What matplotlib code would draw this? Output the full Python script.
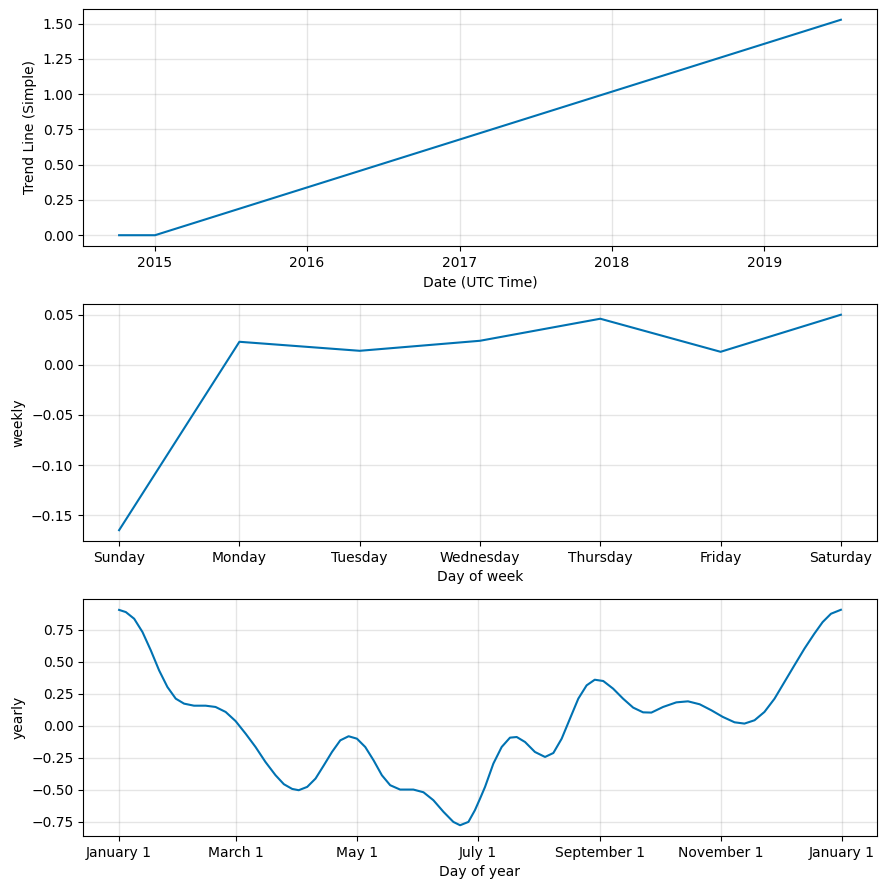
import datetime as dt

import matplotlib
matplotlib.use("Agg")
import matplotlib.pyplot as plt
import matplotlib.dates as mdates

LINE_COLOR = "#0072B2"

# trend component (piecewise linear)
trend_dates = [dt.datetime(2014, 10, 8), dt.datetime(2015, 1, 2), dt.datetime(2019, 7, 3)]
trend_values = [0.0, 0.0, 1.528]

# weekly component
weekdays = ["Sunday", "Monday", "Tuesday", "Wednesday", "Thursday", "Friday", "Saturday"]
weekly_values = [-0.165, 0.023, 0.014, 0.024, 0.046, 0.013, 0.050]

# yearly component (day of year, value)
yearly_days = [0, 3.4, 7.6, 11.8, 16.0, 20.2, 24.4, 28.6, 32.8, 37.8, 43.7, 48.7,
               53.8, 58.8, 63.9, 68.9, 73.9, 79.0, 83.2, 87.4, 90.7, 95.0, 99.2,
               103.4, 107.5, 111.7, 115.9, 120.1, 124.3, 128.5, 132.7, 136.9, 141.9,
               148.6, 153.7, 158.7, 163.8, 168.8, 172.2, 176.4, 179.7, 182.3, 184.8,
               189.0, 193.2, 197.4, 200.8, 205.0, 210.0, 215.1, 219.3, 223.5, 227.7,
               231.9, 236.1, 240.2, 244.5, 249.5, 254.5, 259.6, 264.6, 268.8, 274.7,
               281.4, 287.3, 293.2, 299.1, 304.9, 310.8, 315.8, 320.9, 325.9, 331.0,
               336.0, 341.0, 346.1, 351.1, 355.3, 359.5, 364.5]
yearly_values = [0.905, 0.888, 0.836, 0.732, 0.589, 0.432, 0.302, 0.211, 0.172, 0.156,
                 0.156, 0.146, 0.107, 0.036, -0.063, -0.167, -0.284, -0.388, -0.458,
                 -0.495, -0.505, -0.479, -0.414, -0.310, -0.206, -0.115, -0.083, -0.102,
                 -0.167, -0.271, -0.388, -0.466, -0.500, -0.500, -0.521, -0.583, -0.674,
                 -0.753, -0.779, -0.753, -0.661, -0.570, -0.479, -0.297, -0.167, -0.094,
                 -0.089, -0.128, -0.206, -0.245, -0.214, -0.102, 0.055, 0.211, 0.315,
                 0.359, 0.349, 0.289, 0.211, 0.141, 0.104, 0.102, 0.146, 0.182, 0.190,
                 0.167, 0.120, 0.068, 0.026, 0.016, 0.042, 0.107, 0.211, 0.341, 0.471,
                 0.602, 0.719, 0.810, 0.875, 0.906]


def style_grid(ax):
    ax.grid(True, which="major", c="gray", ls="-", lw=1, alpha=0.2)


fig = plt.figure(figsize=(8.86, 8.89), dpi=100)
ax1 = fig.add_axes([0.0937, 0.7233, 0.8961, 0.2666])
ax2 = fig.add_axes([0.0937, 0.3915, 0.8961, 0.2666])
ax3 = fig.add_axes([0.0937, 0.0596, 0.8961, 0.2666])

# trend
ax1.plot(trend_dates, trend_values, ls="-", c=LINE_COLOR)
ax1.xaxis.set_major_locator(mdates.YearLocator())
ax1.xaxis.set_major_formatter(mdates.DateFormatter("%Y"))
ax1.set_xlabel("Date (UTC Time)")
ax1.set_ylabel("Trend Line (Simple)")
style_grid(ax1)

# weekly
ax2.plot(range(len(weekdays)), weekly_values, ls="-", c=LINE_COLOR)
ax2.set_xticks(range(len(weekdays)))
ax2.set_xticklabels(weekdays)
ax2.set_xlabel("Day of week")
ax2.set_ylabel("weekly")
style_grid(ax2)

# yearly
base = dt.datetime(2017, 1, 1)
yearly_dates = [base + dt.timedelta(days=d) for d in yearly_days]
ax3.plot(yearly_dates, yearly_values, ls="-", c=LINE_COLOR)
ax3.xaxis.set_major_locator(mdates.MonthLocator(bymonth=[1, 3, 5, 7, 9, 11]))
ax3.xaxis.set_major_formatter(mdates.DateFormatter("%B %-d"))
ax3.set_xlabel("Day of year")
ax3.set_ylabel("yearly")
style_grid(ax3)

fig.savefig("out.png", dpi=100)
